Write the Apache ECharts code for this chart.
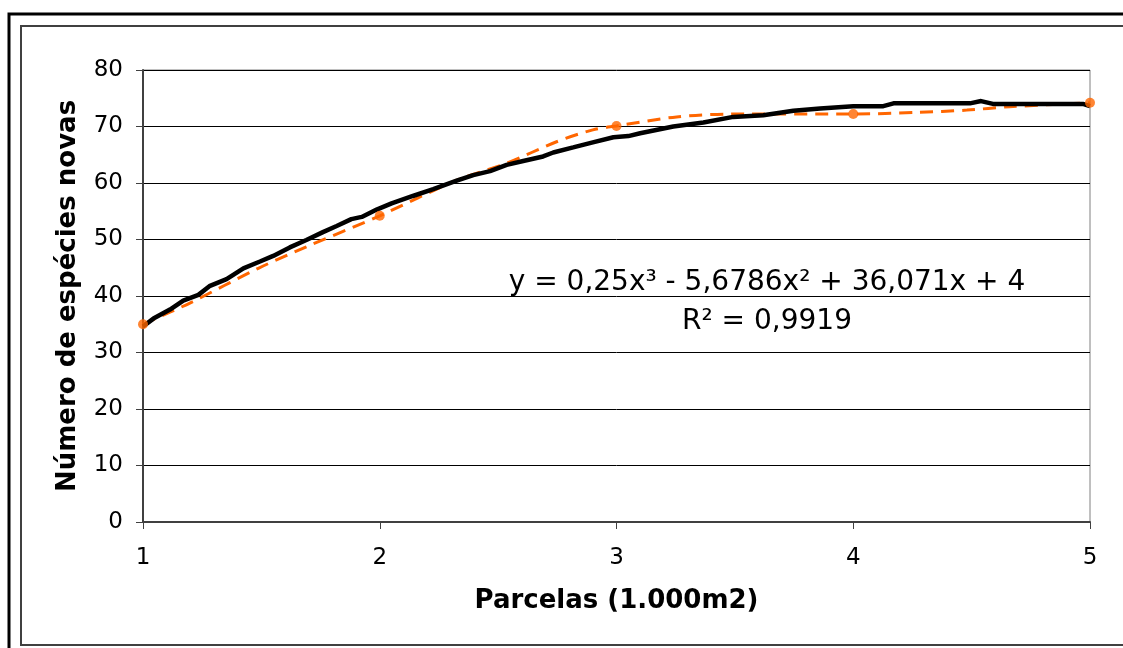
<!DOCTYPE html>
<html>
<head>
<meta charset="utf-8">
<script src="https://cdn.jsdelivr.net/npm/echarts@6/dist/echarts.min.js"></script>
<style>
  html, body { margin: 0; padding: 0; background: #fff; }
  #chart { width: 1123px; height: 648px; }
</style>
</head>
<body>
<div id="chart"></div>
<script>
// curva de acumulação (linha preta)
const curveX = [1.0, 1.044, 1.114, 1.17, 1.234, 1.283, 1.353, 1.424, 1.494, 1.55, 1.62, 1.69, 1.76, 1.818, 1.88, 1.924, 1.987, 2.05, 2.14, 2.226, 2.325, 2.395, 2.466, 2.536, 2.606, 2.69, 2.733, 2.817, 2.9, 2.987, 3.05, 3.1, 3.24, 3.367, 3.493, 3.62, 3.747, 3.86, 4.0, 4.127, 4.17, 4.493, 4.54, 4.59, 4.97, 5.0];
const curveY = [34.6, 36.0, 37.6, 39.2, 40.2, 41.8, 43.0, 44.9, 46.1, 47.1, 48.6, 49.9, 51.3, 52.4, 53.6, 54.0, 55.3, 56.4, 57.7, 58.9, 60.4, 61.4, 62.1, 63.2, 63.9, 64.7, 65.4, 66.3, 67.2, 68.1, 68.3, 68.8, 70.0, 70.7, 71.7, 72.0, 72.8, 73.2, 73.6, 73.6, 74.1, 74.1, 74.5, 74.0, 74.0, 73.6];

// pontos observados por parcela (laranja)
const parcelas = [1, 2, 3, 4, 5];
const especies = [35, 54.2, 70.1, 72.2, 74.2];

// linha de tendência tracejada
const trendX = [1.0, 1.2, 1.487, 1.69, 2.0, 2.325, 2.536, 2.747, 2.9, 3.0, 3.254, 3.48, 4.0, 4.27, 4.48, 4.66, 5.0];
const trendY = [35.0, 38.8, 44.9, 48.7, 54.2, 60.5, 63.5, 67.3, 69.4, 70.1, 71.7, 72.2, 72.2, 72.5, 72.9, 73.5, 74.2];

const yTicks = [0, 80, 10];
const xTicks = [1, 5, 1];

const eqLine1 = 'y = 0,25x³ - 5,6786x² + 36,071x + 4';
const eqLine2 = 'R² = 0,9919';

const font = 'DejaVu Sans, Verdana, sans-serif';
const orange = '#FF6600';

const chart = echarts.init(document.getElementById('chart'));

const option = {
  animation: false,
  backgroundColor: '#fff',
  grid: { left: 143, top: 70, right: 33, bottom: 126, show: true, borderColor: '#808080', borderWidth: 1 },
  xAxis: {
    type: 'value',
    min: xTicks[0], max: xTicks[1], interval: xTicks[2],
    name: 'Parcelas (1.000m2)',
    nameLocation: 'middle',
    nameGap: 66,
    nameTextStyle: { fontFamily: font, fontSize: 26, fontWeight: 'bold', color: '#000' },
    axisLine: { lineStyle: { color: '#404040', width: 2 } },
    axisTick: { show: true, length: 7, lineStyle: { color: '#404040' } },
    axisLabel: { fontFamily: font, fontSize: 23, color: '#000', margin: 25 },
    splitLine: { show: false }
  },
  yAxis: {
    type: 'value',
    min: yTicks[0], max: yTicks[1], interval: yTicks[2],
    name: 'Número de espécies novas',
    nameLocation: 'middle',
    nameGap: 62,
    nameTextStyle: { fontFamily: font, fontSize: 26, fontWeight: 'bold', color: '#000' },
    axisLine: { show: true, lineStyle: { color: '#404040', width: 2 } },
    axisTick: { show: true, length: 7, lineStyle: { color: '#404040' } },
    axisLabel: { fontFamily: font, fontSize: 23, color: '#000', margin: 20 },
    splitLine: { show: true, lineStyle: { color: '#000', width: 1 } }
  },
  series: [
    {
      name: 'tendencia',
      type: 'line',
      data: trendX.map((x, i) => [x, trendY[i]]),
      smooth: 0.3,
      showSymbol: false,
      lineStyle: { color: orange, width: 3, type: [13, 8] },
      z: 2
    },
    {
      name: 'curva',
      type: 'line',
      data: curveX.map((x, i) => [x, curveY[i]]),
      showSymbol: false,
      lineStyle: { color: '#000', width: 4.5 },
      z: 3
    },
    {
      name: 'pontos',
      type: 'scatter',
      data: parcelas.map((x, i) => [x, especies[i]]),
      symbolSize: 10,
      itemStyle: { color: orange },
      z: 4
    }
  ],
  graphic: [
    { type: 'rect', shape: { x: 9, y: 14, width: 1300, height: 800 }, style: { fill: null, stroke: '#000', lineWidth: 3 }, silent: true },
    { type: 'rect', shape: { x: 21, y: 26, width: 1300, height: 619 }, style: { fill: null, stroke: '#404040', lineWidth: 2 }, silent: true },
    { type: 'text', x: 767, y: 283, style: { text: eqLine1, font: '28px ' + font, fill: '#000', align: 'center', verticalAlign: 'middle' }, silent: true },
    { type: 'text', x: 767, y: 322, style: { text: eqLine2, font: '28px ' + font, fill: '#000', align: 'center', verticalAlign: 'middle' }, silent: true }
  ]
};

chart.setOption(option);
</script>
</body>
</html>
